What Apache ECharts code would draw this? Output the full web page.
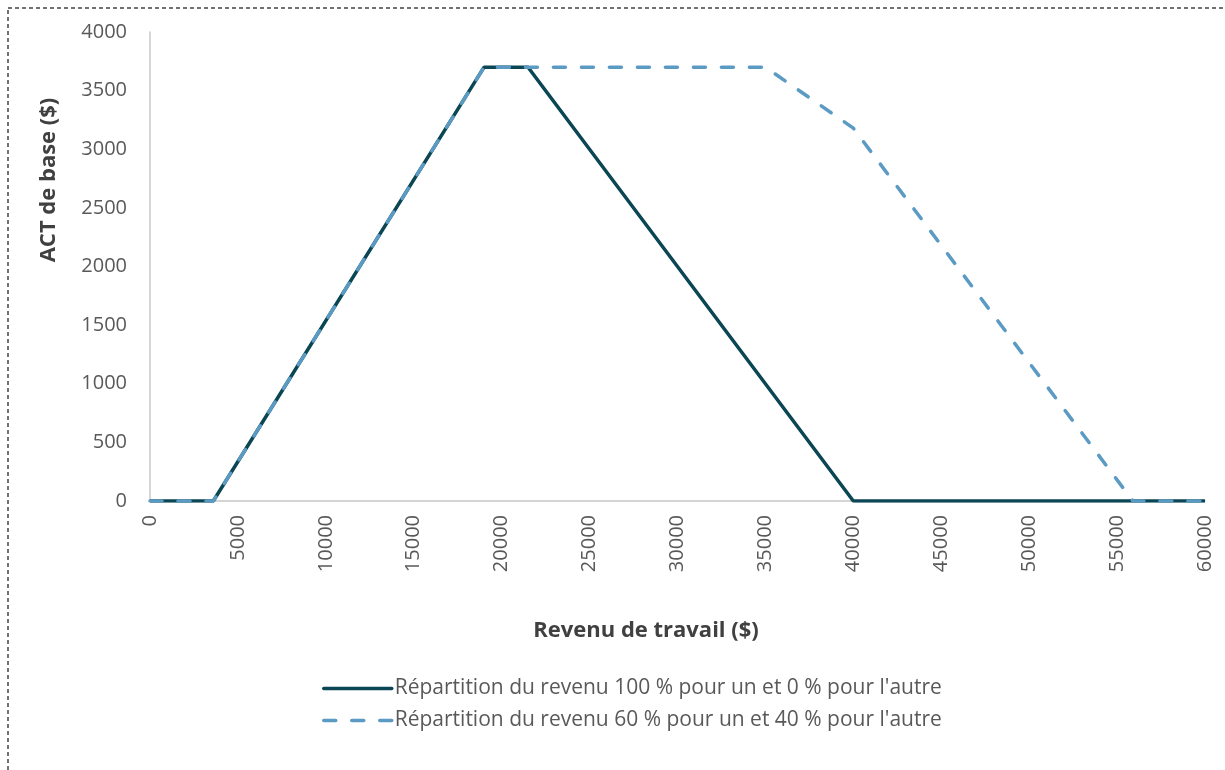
<!DOCTYPE html>
<html>
<head>
<meta charset="utf-8">
<script src="https://cdn.jsdelivr.net/npm/echarts@6/dist/echarts.min.js"></script>
<style>
html,body{margin:0;padding:0;background:#fff;}
#chart{width:1225px;height:770px;}
</style>
</head>
<body>
<div id="chart"></div>
<script>
const seriesNames = [
  "Répartition du revenu 100 % pour un et 0 % pour l'autre",
  "Répartition du revenu 60 % pour un et 40 % pour l'autre"
];
const solidX = [0, 3600, 19000, 21500, 40000, 60000];
const solidY = [0, 0, 3700, 3700, 0, 0];
const dashedX = [0, 3600, 19000, 35000, 40000, 55900, 60000];
const dashedY = [0, 0, 3700, 3700, 3180, 0, 0];
const xTitle = "Revenu de travail ($)";
const yTitle = "ACT de base ($)";

const font = "'Open Sans', 'Noto Sans', sans-serif";
const pair = (xs, ys) => xs.map((x, i) => [x, ys[i]]);
const plain = v => String(v);

const chart = echarts.init(document.getElementById('chart'), null, {renderer: 'canvas'});
chart.setOption({
  animation: false,
  backgroundColor: '#fff',
  grid: {left: 150, right: 20, top: 32, bottom: 269, containLabel: false},
  xAxis: {
    type: 'value', min: 0, max: 60000, interval: 5000,
    axisLine: {show: true, lineStyle: {color: '#c8c8c8', width: 1.5}},
    axisTick: {show: false},
    splitLine: {show: false},
    axisLabel: {rotate: 90, margin: 14, color: '#595959', fontSize: 20, fontFamily: font, formatter: plain}
  },
  yAxis: {
    type: 'value', min: 0, max: 4000, interval: 500,
    axisLine: {show: true, lineStyle: {color: '#c8c8c8', width: 1.5}},
    axisTick: {show: false},
    splitLine: {show: false},
    axisLabel: {margin: 23, color: '#595959', fontSize: 20, fontFamily: font, formatter: plain}
  },
  legend: {
    orient: 'vertical', left: 317, top: 673, itemWidth: 68, itemHeight: 14, itemGap: 11,
    itemStyle: {opacity: 0},
    lineStyle: {width: 3.5, cap: 'round'},
    textStyle: {color: '#595959', fontSize: 21, fontFamily: font, padding: [0,0,0,-2]},
    data: seriesNames
  },
  graphic: [
    {type: 'rect', shape: {x: 8, y: 8, width: 1240, height: 800}, silent: true,
     style: {fill: 'none', stroke: '#444', lineWidth: 1.5, lineDash: [4, 3]}},
    {type: 'text', x: 646, y: 631,
     style: {text: xTitle, fill: '#404040', font: 'bold 22px ' + font, align: 'center', verticalAlign: 'middle'}},
    {type: 'text', x: 49, y: 180, rotation: Math.PI / 2,
     style: {text: yTitle, fill: '#404040', font: 'bold 22px ' + font, align: 'center', verticalAlign: 'middle'}}
  ],
  series: [
    {name: seriesNames[0], type: 'line', data: pair(solidX, solidY), symbol: 'none', z: 2,
     lineStyle: {color: '#0B4654', width: 3.5, type: 'solid'}, itemStyle: {color: '#0B4654'}},
    {name: seriesNames[1], type: 'line', data: pair(dashedX, dashedY), symbol: 'none', z: 3,
     lineStyle: {color: '#5B9BC3', width: 3.5, type: [12, 16], cap: 'round'}, itemStyle: {color: '#5B9BC3'}}
  ]
});
</script>
</body>
</html>
